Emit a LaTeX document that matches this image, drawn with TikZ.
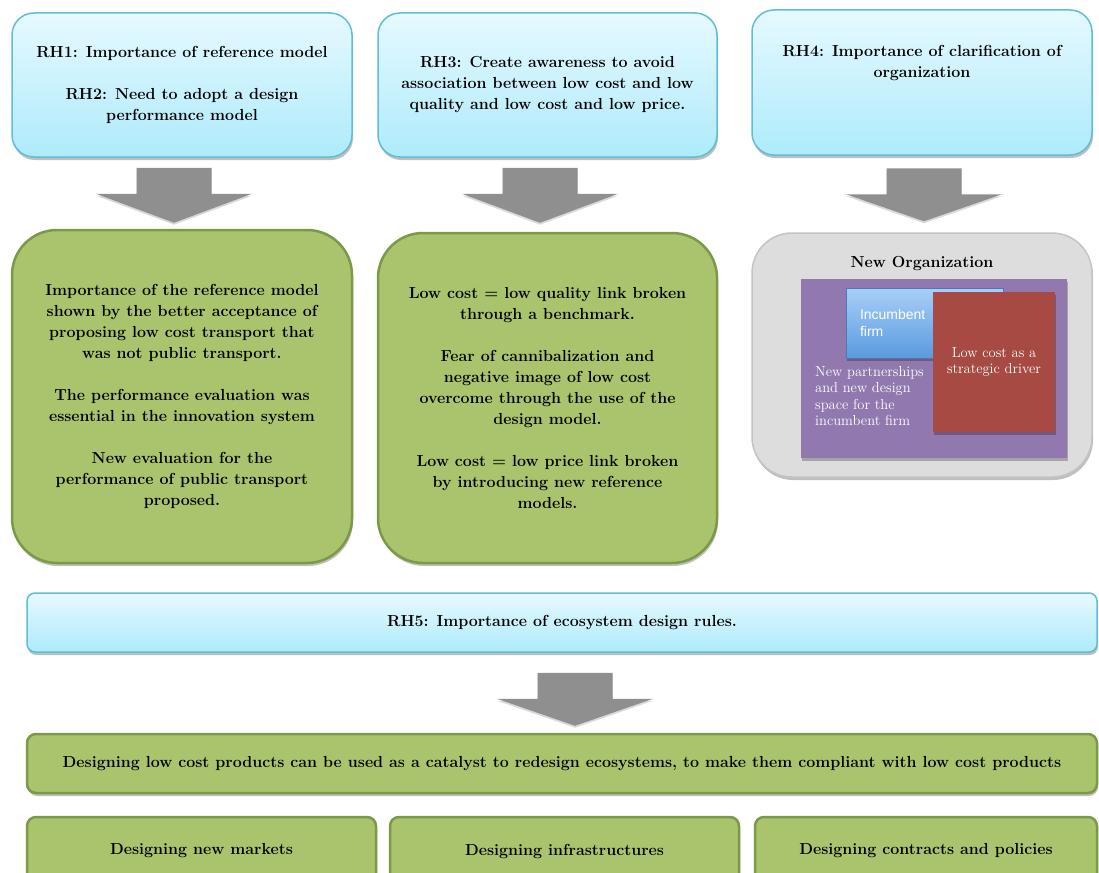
\documentclass[tikz,border=0pt]{standalone}
\usepackage{fontspec}
\usetikzlibrary{shadows}
\newfontfamily\helvfont{Liberation Sans}
\definecolor{skytop}{RGB}{230,249,255}
\definecolor{skybottom}{RGB}{174,235,251}
\definecolor{skyline}{RGB}{98,188,214}
\definecolor{olivefill}{RGB}{169,196,108}
\definecolor{oliveline}{RGB}{124,153,72}
\definecolor{greyfill}{RGB}{221,221,221}
\definecolor{greyline}{RGB}{196,196,196}
\definecolor{arrowgrey}{RGB}{143,143,143}
\definecolor{purplefill}{RGB}{145,121,176}
\definecolor{redfill}{RGB}{166,74,67}
\definecolor{bluetop}{RGB}{168,207,248}
\definecolor{bluebottom}{RGB}{90,154,222}
\newcommand\boxfont{\fontsize{16}{21}\selectfont\bfseries}
\newcommand\smallfont{\fontsize{14.5}{16.5}\selectfont}

\begin{document}
\begin{tikzpicture}[x=1pt, y=-1pt,
    softshadow/.style={drop shadow={shadow xshift=1pt, shadow yshift=-3pt, opacity=0.25, fill=black}},
    rhbox/.style={draw=skyline, line width=1.5pt, rounded corners=22pt, top color=skytop, bottom color=skybottom, softshadow, align=center, font=\boxfont, inner sep=0pt},
    outbox/.style={draw=oliveline, fill=olivefill, line width=2.5pt, rounded corners=45pt, softshadow, align=center, font=\boxfont, inner sep=0pt},
    flatbox/.style={draw=oliveline, fill=olivefill, line width=2.5pt, rounded corners=9pt, softshadow, align=center, font=\boxfont, inner sep=0pt},
    blockarrow/.style={fill=arrowgrey, drop shadow={shadow xshift=0pt, shadow yshift=-2pt, opacity=0.15, fill=black}}]

    \useasboundingbox (0,0) rectangle (1099,872);

    % 1. Research hypotheses
    \node[rhbox, minimum width=340pt, minimum height=144pt] (rh1) at (182,85)
        {RH1: Importance of reference model\\[21pt]RH2: Need to adopt a design\\performance model};
    \node[rhbox, minimum width=339pt, minimum height=144pt] (rh3) at (547.5,85)
        {RH3: Create awareness to avoid\\association between low cost and low\\quality and low cost and low price.};
    \node[rhbox, minimum width=340pt, minimum height=145pt] (rh4) at (922,82.5)
        {RH4: Importance of clarification of\\organization\\[21pt]\mbox{}};

    % 2. Outcomes
    \node[outbox, minimum width=340pt, minimum height=333pt] (out1) at (182,396.5)
        {Importance of the reference model\\shown by the better acceptance of\\proposing low cost transport that\\was not public transport.\\[21pt]
         The performance evaluation was\\essential in the innovation system\\[21pt]
         New evaluation for the\\performance of public transport\\proposed.};
    \node[outbox, minimum width=339pt, minimum height=330pt] (out2) at (547.5,398)
        {Low cost = low quality link broken\\through a benchmark.\\[21pt]
         Fear of cannibalization and\\negative image of low cost\\overcome through the use of the\\design model.\\[21pt]
         Low cost = low price link broken\\by introducing new reference\\models.};

    % 3. New organization
    \node[draw=greyline, fill=greyfill, line width=1.5pt, rounded corners=40pt, softshadow,
          minimum width=340pt, minimum height=244pt] (org) at (922,355) {};
    \node[font=\boxfont] (orgtitle) at (922,264) {New Organization};
    \node[fill=purplefill, softshadow, minimum width=266pt, minimum height=179pt] (space) at (934,368.5) {};
    \node[draw=bluebottom!80!black, line width=0.4pt, top color=bluetop, bottom color=bluebottom, softshadow,
          minimum width=157pt, minimum height=70pt, text width=129pt, inner xsep=14pt, align=left,
          font=\helvfont\fontsize{14}{16.5}\selectfont, text=white] (firm) at (924.5,323) {Incumbent\\firm};
    \node[fill=redfill, softshadow, minimum width=122pt, minimum height=140pt, align=center,
          font=\smallfont, text=white] (driver) at (994,362) {Low cost as a\\strategic driver};
    \node[anchor=north west, align=left, font=\smallfont, text=white, inner sep=0pt] (partners) at (815,366)
        {New partnerships\\and new design\\space for the\\incumbent firm};

    % 4. Ecosystem
    \node[rhbox, rounded corners=8pt, minimum width=1070pt, minimum height=59pt] (rh5) at (562,622.5)
        {RH5: Importance of ecosystem design rules.};
    \node[flatbox, minimum width=1070pt, minimum height=59pt] (catalyst) at (562,763.5)
        {Designing low cost products can be used as a catalyst to redesign ecosystems, to make them compliant with low cost products};
    \node[flatbox, minimum width=349pt, minimum height=68pt] (markets) at (201.5,851) {Designing new markets};
    \node[flatbox, minimum width=349pt, minimum height=68pt] (infra) at (564.5,851) {Designing infrastructures};
    \node[flatbox, minimum width=342pt, minimum height=68pt] (contracts) at (926,851) {Designing contracts and policies};

    % 5. Block arrows
    \coordinate (arr1) at ([xshift=-8pt, yshift=-10pt]rh1.south);
    \coordinate (arr3) at ([xshift=-7.5pt, yshift=-10pt]rh3.south);
    \coordinate (arr4) at ([xshift=2pt, yshift=-12.5pt]rh4.south);
    \coordinate (arr5) at ([xshift=13pt, yshift=-20pt]rh5.south);
    \foreach \a/\h in {arr1/55, arr3/55, arr4/53, arr5/53} {
        \fill[blockarrow] (\a) ++(-37.5,0) -- ++(75,0) -- ++(0,26) -- ++(40.5,0)
            -- ++(-78,\h-26) -- ++(-78,-\h+26) -- ++(40.5,0) -- cycle;
    }

\end{tikzpicture}
\end{document}
